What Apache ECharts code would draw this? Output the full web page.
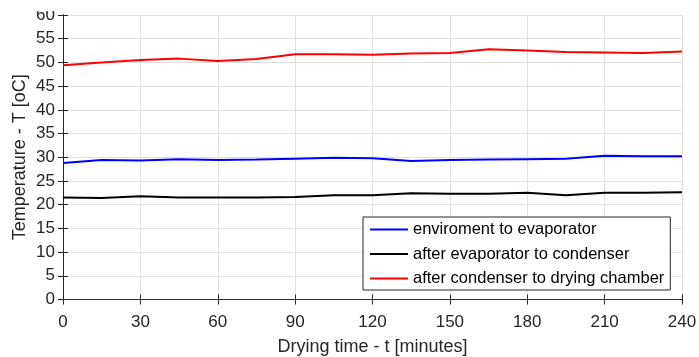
<!DOCTYPE html>
<html>
<head>
<meta charset="utf-8">
<script src="https://cdn.jsdelivr.net/npm/echarts@6/dist/echarts.min.js"></script>
<style>
  html, body { margin: 0; padding: 0; background: #fff; }
  #chart { width: 699px; height: 357px; }
</style>
</head>
<body>
<div id="chart"></div>
<script>
// drying time, minutes
var times = [0, 15, 30, 45, 60, 75, 90, 105, 120, 135, 150, 165, 180, 195, 210, 225, 240];

var envToEvap = [28.8, 29.4, 29.3, 29.6, 29.4, 29.5, 29.7, 29.9, 29.8, 29.2, 29.4, 29.5, 29.6, 29.7, 30.3, 30.2, 30.2];
var evapToCond = [21.5, 21.4, 21.8, 21.5, 21.5, 21.5, 21.6, 22.0, 22.0, 22.4, 22.3, 22.3, 22.5, 22.0, 22.5, 22.5, 22.6];
var condToChamber = [49.4, 50.0, 50.5, 50.8, 50.3, 50.7, 51.7, 51.7, 51.6, 51.9, 52.0, 52.8, 52.5, 52.2, 52.1, 52.0, 52.3];

var seriesNames = ['enviroment to evaporator', 'after evaporator to condenser', 'after condenser to drying chamber'];

function pairs(ys) {
    var out = [];
    for (var i = 0; i < times.length; i++) {
        out.push([times[i], ys[i]]);
    }
    return out;
}

var axisCol = '#262626';
var font = 'Liberation Sans, Arial, sans-serif';

var chart = echarts.init(document.getElementById('chart'));

var option = {
    animation: false,
    backgroundColor: '#fff',
    grid: { left: 63, right: 17, top: 15, bottom: 57.5, containLabel: false, outerBoundsMode: 'none' },
    legend: {
        orient: 'vertical',
        left: 363,
        top: 217,
        padding: [4, 6, 3, 6],
        itemGap: 7.5,
        itemWidth: 38,
        itemHeight: 16,
        itemStyle: { opacity: 0 },
        borderColor: axisCol,
        borderWidth: 1,
        borderRadius: 0,
        backgroundColor: '#fff',
        textStyle: { fontFamily: font, fontSize: 16.5, color: '#000' },
        data: seriesNames
    },
    // the reference is cut off just above the plot box
    graphic: [{
        type: 'rect',
        left: 0, top: 0, z: 100,
        shape: { width: 60, height: 11 },
        style: { fill: '#fff' }
    }],
    xAxis: [
        {
            type: 'value',
            min: 0, max: 240, interval: 30,
            name: 'Drying time - t [minutes]',
            nameLocation: 'middle',
            nameGap: 39,
            nameMoveOverlap: false,
            nameTextStyle: { fontFamily: font, fontSize: 18, color: axisCol },
            axisLine: { lineStyle: { color: axisCol, width: 1 } },
            axisTick: { inside: true, length: 5, lineStyle: { color: axisCol } },
            axisLabel: { fontFamily: font, fontSize: 17, color: axisCol, margin: 14 },
            splitLine: { show: true, lineStyle: { color: '#e0e0e0', width: 1 } }
        },
        {
            type: 'value',
            position: 'top',
            min: 0, max: 240, interval: 30,
            axisLine: { show: true, lineStyle: { color: axisCol, width: 1 } },
            axisTick: { show: true, inside: true, length: 5, lineStyle: { color: axisCol } },
            axisLabel: { show: false },
            splitLine: { show: false }
        }
    ],
    yAxis: [
        {
            type: 'value',
            min: 0, max: 60, interval: 5,
            name: 'Temperature - T [oC]',
            nameLocation: 'middle',
            nameGap: 34,
            nameMoveOverlap: false,
            nameTextStyle: { fontFamily: font, fontSize: 18, color: axisCol },
            axisLine: { show: true, lineStyle: { color: axisCol, width: 1 } },
            axisTick: { show: true, inside: true, length: 5, lineStyle: { color: axisCol } },
            axisLabel: { fontFamily: font, fontSize: 17, color: axisCol, margin: 8 },
            splitLine: { show: true, lineStyle: { color: '#e0e0e0', width: 1 } }
        },
        {
            type: 'value',
            position: 'right',
            min: 0, max: 60, interval: 5,
            axisLine: { show: true, lineStyle: { color: axisCol, width: 1 } },
            axisTick: { show: true, inside: true, length: 5, lineStyle: { color: axisCol } },
            axisLabel: { show: false },
            splitLine: { show: false }
        }
    ],
    series: [
        {
            name: seriesNames[0],
            type: 'line',
            symbol: 'none',
            data: pairs(envToEvap),
            lineStyle: { color: '#0000ff', width: 2 },
            itemStyle: { color: '#0000ff' }
        },
        {
            name: seriesNames[1],
            type: 'line',
            symbol: 'none',
            data: pairs(evapToCond),
            lineStyle: { color: '#000000', width: 2 },
            itemStyle: { color: '#000000' }
        },
        {
            name: seriesNames[2],
            type: 'line',
            symbol: 'none',
            data: pairs(condToChamber),
            lineStyle: { color: '#ff0000', width: 2 },
            itemStyle: { color: '#ff0000' }
        }
    ]
};

chart.setOption(option);
</script>
</body>
</html>
